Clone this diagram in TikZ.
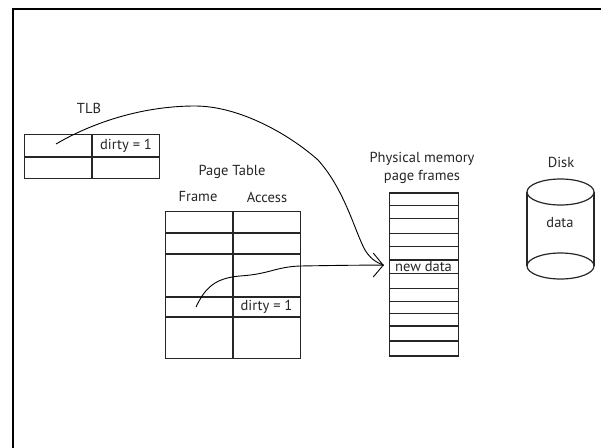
\documentclass[tikz,border=0pt]{standalone}
\usepackage{fontspec}
\setmainfont{PT Sans}
\usetikzlibrary{arrows.meta}
\begin{document}
\begin{tikzpicture}[x=1pt,y=-1pt,
  box/.style={draw=black!85, line width=1.2pt, inner sep=0pt, anchor=north west},
  grid/.style={draw=black!85, line width=1.2pt},
  lbl/.style={font=\fontsize{14.5}{18}\selectfont, inner sep=0pt, text=black!85},
  link/.style={draw=black, line width=0.9pt},
  tip/.style={-{Straight Barb[length=10pt,width=24pt,line width=0.9pt]}}]

\useasboundingbox (0,0) rectangle (601,447);

% outer frame, running off the right and bottom edges
\draw[line width=2.5pt] (13,450) -- (13,9) -- (604,9);

% ---- TLB ----
\node[lbl] (tlblabel) at (89,108) {TLB};
\node[box, minimum width=135pt, minimum height=44pt] (tlb) at (24,134) {};
\draw[grid] (92,134) -- (92,178);
\draw[grid] (24,157) -- (159,157);
\node[lbl] (tlbdirty) at (126,146) {dirty = 1};
\coordinate (tlbsrc) at (56,144);

% ---- Page table ----
\node[lbl] (ptlabel) at (232,172) {Page Table};
\node[lbl] (frame) at (198,197) {Frame};
\node[lbl] (access) at (267,197) {Access};
\node[box, minimum width=135pt, minimum height=147pt] (pt) at (165,211) {};
\draw[grid] (233,211) -- (233,358);
\foreach \y in {233,254,297,317} \draw[grid] (165,\y) -- (300,\y);
\node[lbl] (ptdirty) at (266.5,307) {dirty = 1};
\coordinate (ptsrc) at (196,307);

% ---- Physical memory ----
\node[lbl, align=center] (memlabel) at (422,168) {Physical memory\\page frames};
\node[box, minimum width=69pt, minimum height=163pt] (mem) at (389,192.3) {};
\foreach \y in {205.3,218.3,233.3,246.7,260,273.3,288.3,301.7,313.3,326,341}
  \draw[grid] (389,\y) -- (458,\y);
\node[lbl, minimum width=69pt, minimum height=13.3pt] (newdata) at (423.5,266.7) {new data};
\coordinate (arrowtip) at ([xshift=-5pt,yshift=1.5pt]newdata.west);

% ---- Disk ----
\node[lbl] (disklabel) at (561,162) {Disk};
\draw[grid] (527,192) -- (527,266);
\draw[grid] (594,192) -- (594,266);
\draw[grid, fill=white] (560.5,192) ellipse [x radius=33.5pt, y radius=13pt];
\draw[grid] (560.5,266) ellipse [x radius=33.5pt, y radius=13pt];
\node[lbl] (diskdata) at (560,223) {data};

% ---- connectors ----
\draw[link] (tlbsrc) .. controls (90,124) and (140,106) .. (195,106)
  .. controls (240,106) and (290,135) .. (318,160)
  .. controls (345,190) and (355,232) .. (365,250)
  .. controls (370,258) and (375,262) .. (arrowtip);
\draw[link, tip] (ptsrc) .. controls (205,288) and (215,278) .. (240,276)
  .. controls (270,274) and (275,267) .. (300,266)
  .. controls (330,265.5) and (360,265) .. (arrowtip);
\end{tikzpicture}
\end{document}
